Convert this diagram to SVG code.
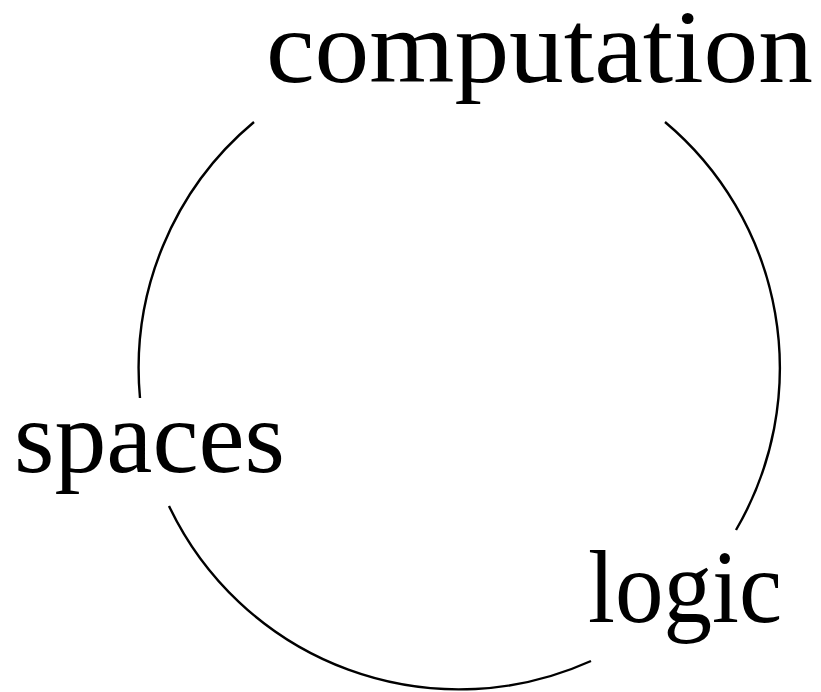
<svg xmlns="http://www.w3.org/2000/svg" width="821" height="692" viewBox="0 0 821 692">
<style>
.lbl{font-family:"Liberation Serif","DejaVu Serif",serif;font-size:103px;fill:#000}
.arc{fill:none;stroke:#000;stroke-width:2.4}
</style>
<rect width="821" height="692" fill="#fff"/>
<g id="connectors">
<path class="arc" d="M254,122 A321,321 0 0 0 140,398"/>
<path class="arc" d="M169,506 A321,321 0 0 0 591,661"/>
<path class="arc" d="M736,530 A321,321 0 0 0 665,122"/>
</g>
<g id="computation"><text class="lbl" x="266" y="82" textLength="547" lengthAdjust="spacingAndGlyphs">computation</text></g>
<g id="spaces"><text class="lbl" x="14" y="472" textLength="271" lengthAdjust="spacingAndGlyphs">spaces</text></g>
<g id="logic"><text class="lbl" x="588" y="622" textLength="194" lengthAdjust="spacingAndGlyphs">logic</text></g>
</svg>
